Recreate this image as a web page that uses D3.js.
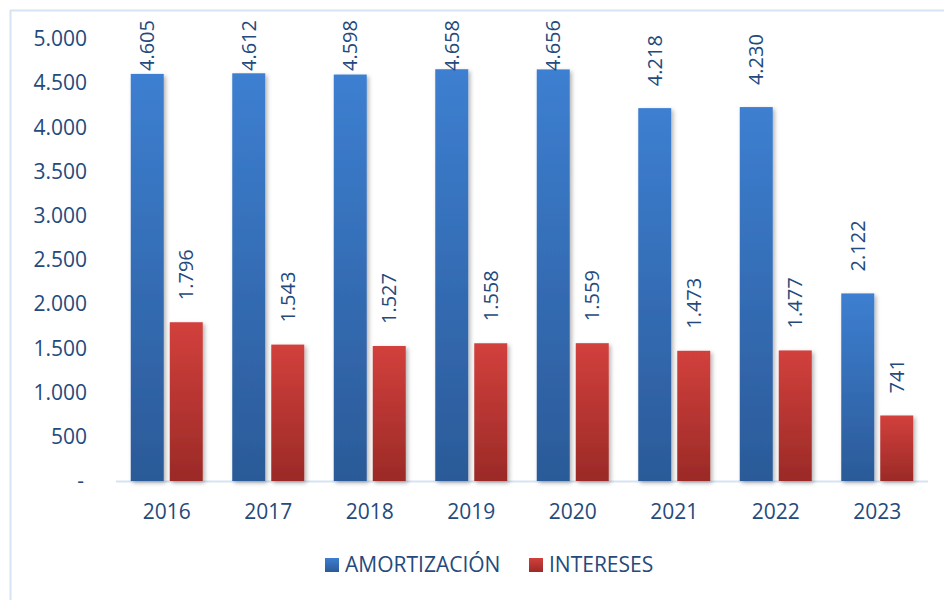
<!DOCTYPE html>
<html>
<head>
<meta charset="utf-8">
<script src="https://cdn.jsdelivr.net/npm/d3@7"></script>
<style>
  body { margin: 0; background: #fff; }
  svg text { font-family: "Open Sans", sans-serif; fill: #244a7c; }
</style>
</head>
<body>
<div id="chart"></div>
<script>
// Data
const years = ["2016", "2017", "2018", "2019", "2020", "2021", "2022", "2023"];
const amortizacion = [4605, 4612, 4598, 4658, 4656, 4218, 4230, 2122];
const intereses = [1796, 1543, 1527, 1558, 1559, 1473, 1477, 741];
const seriesNames = ["AMORTIZACIÓN", "INTERESES"];
const yTicks = [0, 500, 1000, 1500, 2000, 2500, 3000, 3500, 4000, 4500, 5000];

const width = 944, height = 600;
const margin = {top: 39, right: 16, bottom: 119, left: 116};

const svg = d3.select("#chart")
    .append("svg")
    .attr("width", width)
    .attr("height", height);

// gradients + shadow
const defs = svg.append("defs");
const grads = [
    {id: "gBlue", top: "#3d7fd1", bottom: "#2b5a98"},
    {id: "gRed", top: "#d2403c", bottom: "#9b2a27"}
];
grads.forEach(g => {
    const lg = defs.append("linearGradient")
        .attr("id", g.id)
        .attr("x1", 0).attr("y1", 0).attr("x2", 0).attr("y2", 1);
    lg.append("stop").attr("offset", "0%").attr("stop-color", g.top);
    lg.append("stop").attr("offset", "100%").attr("stop-color", g.bottom);
});
defs.append("filter")
    .attr("id", "shadow")
    .attr("x", "-20%").attr("y", "-5%").attr("width", "150%").attr("height", "115%")
    .append("feDropShadow")
    .attr("dx", 2).attr("dy", 2)
    .attr("stdDeviation", 2)
    .attr("flood-color", "#000")
    .attr("flood-opacity", 0.3);

// outer border
svg.append("rect")
    .attr("x", 10.5).attr("y", 10.5)
    .attr("width", 960).attr("height", 620)
    .attr("fill", "none")
    .attr("stroke", "#d6e3f3")
    .attr("stroke-width", 2);

const x = d3.scaleBand()
    .domain(years)
    .range([margin.left, width - margin.right]);

const y = d3.scaleLinear()
    .domain([0, 5000])
    .range([481, 39]);

const barW = 33, gap = 6;

// Y axis labels
const yAxis = svg.append("g")
    .attr("transform", "translate(87,0)")
    .call(d3.axisLeft(y).tickValues(yTicks).tickSize(0).tickPadding(0)
        .tickFormat(d => d === 0 ? "-" : d3.format(",")(d).replace(/,/g, ".")));
yAxis.select(".domain").remove();
yAxis.selectAll("text")
    .style("font-size", "21px")
    .attr("fill", "#244a7c")
    .attr("dx", d => d === 0 ? "-3px" : 0);

// X axis
svg.append("line")
    .attr("x1", margin.left).attr("x2", width - margin.right)
    .attr("y1", 481.5).attr("y2", 481.5)
    .attr("stroke", "#d6e3f3")
    .attr("stroke-width", 2);

svg.append("g")
    .selectAll("text")
    .data(years)
    .enter()
    .append("text")
    .attr("x", d => x(d) + x.bandwidth() / 2)
    .attr("y", 519)
    .attr("text-anchor", "middle")
    .style("font-size", "21px")
    .text(d => d);

// bars
const series = [
    {values: amortizacion, fill: "url(#gBlue)", offset: -(barW + gap) / 2},
    {values: intereses, fill: "url(#gRed)", offset: (barW + gap) / 2}
];

series.forEach(s => {
    svg.append("g")
        .selectAll("rect")
        .data(years)
        .enter()
        .append("rect")
        .attr("x", (d, i) => x(d) + x.bandwidth() / 2 + s.offset - barW / 2)
        .attr("y", (d, i) => y(s.values[i]))
        .attr("width", barW)
        .attr("height", (d, i) => y(0) - y(s.values[i]))
        .attr("fill", s.fill)
        .attr("filter", "url(#shadow)");
});

// value labels, rotated
const fmt = v => d3.format(",")(v).replace(/,/g, ".");
series.forEach(s => {
    svg.append("g")
        .selectAll("text")
        .data(years)
        .enter()
        .append("text")
        .style("font-size", "20px")
        .text((d, i) => fmt(s.values[i]))
        .each(function(d, i) {
            const len = this.getComputedTextLength();
            let start = y(s.values[i]) - 22;
            if (start - len < 20) start = 20 + len;
            const cx = x(d) + x.bandwidth() / 2 + s.offset + 7;
            d3.select(this)
                .attr("text-anchor", "start")
                .attr("transform", `translate(${cx},${start}) rotate(-90)`);
        });
});

// legend
const legend = svg.append("g");
const legendItems = [
    {name: seriesNames[0], fill: "url(#gBlue)", x: 325},
    {name: seriesNames[1], fill: "url(#gRed)", x: 529}
];
legendItems.forEach(l => {
    legend.append("rect")
        .attr("x", l.x).attr("y", 558)
        .attr("width", 14).attr("height", 14)
        .attr("fill", l.fill);
    legend.append("text")
        .attr("x", l.x + 20)
        .attr("y", 572)
        .style("font-size", "21px")
        .text(l.name);
});
</script>
</body>
</html>
